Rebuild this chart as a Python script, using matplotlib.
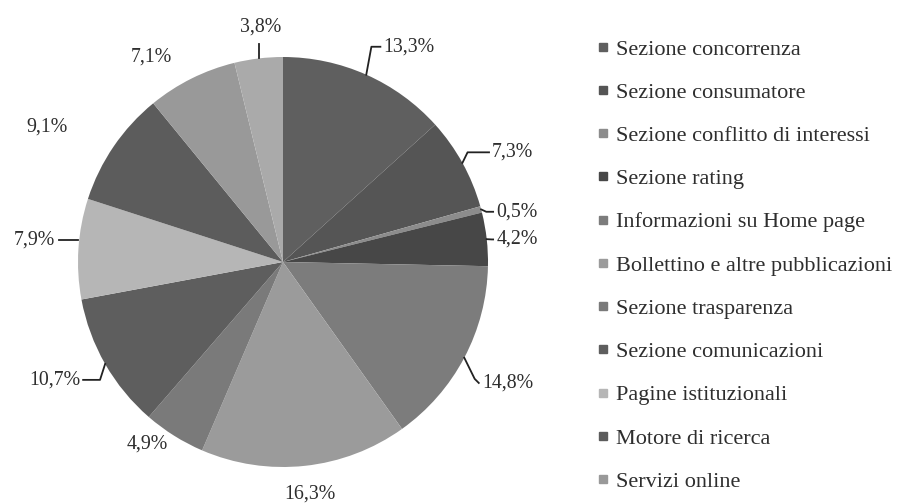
import numpy as np
import matplotlib
matplotlib.use("Agg")
import matplotlib.pyplot as plt
from matplotlib.lines import Line2D

categories = [
    "Sezione concorrenza",
    "Sezione consumatore",
    "Sezione conflitto di interessi",
    "Sezione rating",
    "Informazioni su Home page",
    "Bollettino e altre pubblicazioni",
    "Sezione trasparenza",
    "Sezione comunicazioni",
    "Pagine istituzionali",
    "Motore di ricerca",
    "Servizi online",
    "Altro",
]
values = [13.3, 7.3, 0.5, 4.2, 14.8, 16.3, 4.9, 10.7, 7.9, 9.1, 7.1, 3.8]
value_labels = ["13,3%", "7,3%", "0,5%", "4,2%", "14,8%", "16,3%",
                "4,9%", "10,7%", "7,9%", "9,1%", "7,1%", "3,8%"]
legend_count = 11

colors = ["#5f5f5f", "#555555", "#8c8c8c", "#474747", "#7c7c7c", "#9b9b9b",
          "#7a7a7a", "#5e5e5e", "#b6b6b6", "#5c5c5c", "#999999", "#aaaaaa"]

# label layout: text position (data units, radius 1 = pie), alignment, leader kind
label_layout = [
    ((0.49, 1.05), "left", "elbow"),
    ((1.02, 0.535), "left", "elbow"),
    ((1.04, 0.245), "left", "elbow"),
    ((1.04, 0.11), "left", "elbow"),
    ((0.97, -0.59), "left", "diag"),
    ((0.13, -1.13), "center", None),
    ((-0.66, -0.89), "center", None),
    ((-0.99, -0.575), "right", "elbow"),
    ((-1.11, 0.105), "right", "straight"),
    ((-1.15, 0.66), "center", None),
    ((-0.64, 1.0), "center", None),
    ((-0.11, 1.145), "center", "vertical"),
]

plt.rcParams['font.family'] = ['Liberation Serif', 'DejaVu Serif']
text_color = "#2e2e2e"

fig = plt.figure(figsize=(9.01, 5.03), dpi=100)
fig.patch.set_facecolor("white")

cx, cy, r = 283, 262, 205
W, H = 901, 503
ax = fig.add_axes([(cx - r) / W, (H - cy - r) / H, 2 * r / W, 2 * r / H])

wedges, _ = ax.pie(values, colors=colors, startangle=90, counterclock=False,
                   radius=1.0, wedgeprops=dict(linewidth=0),
                   normalize=True, frame=False)
ax.set_xlim(-1, 1)
ax.set_ylim(-1, 1)
ax.set_aspect("equal")
ax.axis("off")

total = sum(values)
cum = np.cumsum([0] + values[:-1])
for i, w in enumerate(wedges):
    mid = 90 - (cum[i] + values[i] / 2) / total * 360
    ang = np.deg2rad(mid)
    ax_, ay_ = np.cos(ang), np.sin(ang)
    (tx, ty), ha, kind = label_layout[i]
    ax.text(tx, ty, value_labels[i], ha=ha, va="center", fontsize=14.3,
            color=text_color, clip_on=False)
    lw = 1.3
    lc = "#222222"
    if kind == "elbow":
        sgn = 1 if ha == "left" else -1
        ex = ax_ + sgn * 0.025
        end = tx - sgn * 0.015
        ax.plot([ax_, ex, end], [ay_, ty, ty], color=lc, lw=lw, clip_on=False)
    elif kind == "diag":
        ax.plot([ax_, tx - 0.035, tx - 0.015], [ay_, ty + 0.02, ty],
                color=lc, lw=lw, clip_on=False)
    elif kind == "straight":
        ax.plot([ax_, tx + 0.015], [ty, ty], color=lc, lw=lw, clip_on=False)
    elif kind == "vertical":
        ax.plot([ax_, ax_], [ay_, ty - 0.08], color=lc, lw=lw, clip_on=False)

handles = [Line2D([0], [0], marker="s", linestyle="none", markersize=6,
                  markerfacecolor=colors[i], markeredgecolor=colors[i])
           for i in range(legend_count)]
fig.legend(handles, categories[:legend_count], loc="upper left",
           bbox_to_anchor=(596 / W, 1 - 39 / H), frameon=False,
           fontsize=16.0, labelcolor=text_color, handlelength=0.6,
           handletextpad=0.3, labelspacing=1.02, borderaxespad=0,
           borderpad=0)

fig.savefig("out.png", dpi=100, facecolor="white")
